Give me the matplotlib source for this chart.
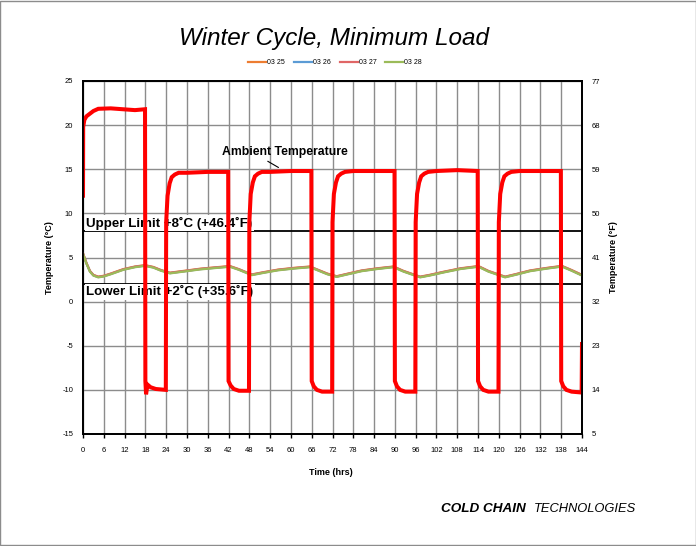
import matplotlib
matplotlib.use("Agg")
import matplotlib.pyplot as plt
from matplotlib.patches import Rectangle

# ---------------- data ----------------
amb_time = [0.0, 0.05, 0.4, 1.0, 2.0, 3.0, 4.4, 8.0, 11.5, 15.0, 17.9,
            18.0, 18.2, 18.6, 19.5, 21.0, 23.9,
            24.0, 24.4, 25.0, 25.6, 26.5, 27.6, 30.0, 36.0, 41.9,
            42.0, 42.6, 43.5, 45.0, 47.9,
            48.0, 48.4, 49.0, 49.6, 50.5, 51.6, 54.0, 60.0, 65.9,
            66.0, 66.6, 67.5, 69.0, 71.9,
            72.0, 72.4, 73.0, 73.6, 74.5, 75.6, 78.0, 84.0, 89.9,
            90.0, 90.6, 91.5, 93.0, 95.9,
            96.0, 96.4, 97.0, 97.6, 98.5, 99.6, 102.0, 108.0, 113.9,
            114.0, 114.6, 115.5, 117.0, 119.9,
            120.0, 120.4, 121.0, 121.6, 122.5, 123.6, 126.0, 132.0, 137.9,
            138.0, 138.6, 139.5, 141.0, 143.9, 144.0]
amb_temp = [12.0, 19.8, 20.6, 21.0, 21.3, 21.6, 21.85, 21.9, 21.8, 21.7, 21.8,
            -9.0, -10.5, -9.4, -9.7, -9.9, -10.0,
            9.0, 12.0, 13.4, 14.1, 14.4, 14.6, 14.6, 14.7, 14.7,
            -9.0, -9.5, -9.9, -10.1, -10.1,
            9.0, 12.2, 13.5, 14.2, 14.5, 14.7, 14.7, 14.8, 14.8,
            -9.0, -9.6, -10.0, -10.2, -10.2,
            9.0, 12.2, 13.5, 14.2, 14.5, 14.7, 14.8, 14.8, 14.8,
            -9.0, -9.6, -10.0, -10.2, -10.2,
            9.0, 12.2, 13.5, 14.2, 14.5, 14.7, 14.8, 14.9, 14.8,
            -9.0, -9.6, -10.0, -10.2, -10.2,
            9.0, 12.2, 13.5, 14.2, 14.5, 14.7, 14.8, 14.8, 14.8,
            -9.0, -9.6, -10.0, -10.2, -10.3, -4.8]

prod_time = [0, 1, 2, 3, 4.4, 6, 8, 11.6, 15, 17.9, 20.3, 22.5, 25.1, 28, 30,
             33.8, 38, 42.4, 45, 48.7, 52, 56.3, 61, 65.5, 68, 70.5, 73.2,
             76.5, 80.4, 85, 89.6, 92.5, 95.8, 97.3, 100, 104, 109, 114.1,
             117, 121.8, 125, 129, 134, 138.2, 141, 144]
s0325 = [5.48, 4.38, 3.48, 3.03, 2.83, 2.93, 3.18, 3.68, 3.98, 4.13, 3.93, 3.58,
         3.28, 3.43, 3.53, 3.73, 3.88, 4.03, 3.68, 3.08, 3.33, 3.63, 3.83, 3.98,
         3.58, 3.18, 2.88, 3.18, 3.53, 3.78, 3.98, 3.48, 3.03, 2.83, 3.03, 3.38,
         3.78, 4.03, 3.48, 2.83, 3.13, 3.53, 3.83, 4.05, 3.58, 3.03]
s0326 = [5.43, 4.33, 3.43, 2.98, 2.78, 2.88, 3.13, 3.63, 3.93, 4.08, 3.88, 3.53,
         3.23, 3.38, 3.48, 3.68, 3.83, 3.98, 3.63, 3.03, 3.28, 3.58, 3.78, 3.93,
         3.53, 3.13, 2.83, 3.13, 3.48, 3.73, 3.93, 3.43, 2.98, 2.78, 2.98, 3.33,
         3.73, 3.98, 3.43, 2.78, 3.08, 3.48, 3.78, 4.00, 3.53, 2.98]
s0327 = [5.45, 4.35, 3.45, 3.00, 2.80, 2.90, 3.15, 3.65, 3.95, 4.10, 3.90, 3.55,
         3.25, 3.40, 3.50, 3.70, 3.85, 4.00, 3.65, 3.05, 3.30, 3.60, 3.80, 3.95,
         3.55, 3.15, 2.85, 3.15, 3.50, 3.75, 3.95, 3.45, 3.00, 2.80, 3.00, 3.35,
         3.75, 4.00, 3.45, 2.80, 3.10, 3.50, 3.80, 4.02, 3.55, 3.00]
s0328 = [5.40, 4.30, 3.40, 2.95, 2.75, 2.85, 3.10, 3.60, 3.90, 4.05, 3.85, 3.50,
         3.20, 3.35, 3.45, 3.65, 3.80, 3.95, 3.60, 3.00, 3.25, 3.55, 3.75, 3.90,
         3.50, 3.10, 2.80, 3.10, 3.45, 3.70, 3.90, 3.40, 2.95, 2.75, 2.95, 3.30,
         3.70, 3.95, 3.40, 2.75, 3.05, 3.45, 3.75, 3.97, 3.50, 2.95]

series_names = ["03 25", "03 26", "03 27", "03 28"]
series_colors = ["#ED7D31", "#5B9BD5", "#E06666", "#9BBB59"]

x_ticks = list(range(0, 145, 6))
yc_ticks = [-15, -10, -5, 0, 5, 10, 15, 20, 25]
yf_ticks = [5, 14, 23, 32, 41, 50, 59, 68, 77]
upper_limit = 8
lower_limit = 2

# ---------------- figure ----------------
plt.rcParams['font.family'] = ['Liberation Sans', 'DejaVu Sans']
plt.rcParams['axes.unicode_minus'] = False
fig = plt.figure(figsize=(6.96, 5.46), dpi=100)
ax = fig.add_axes([83/696, 1-434/546, (582-83)/696, (434-81)/546])

ax.set_xlim(0, 144)
ax.set_ylim(-15, 25)
ax.set_xticks(x_ticks)
ax.set_yticks(yc_ticks)
ax.grid(True, color="#8c8c8c", linewidth=1.0, zorder=0)
ax.set_axisbelow(True)
ax.tick_params(axis='x', length=3, width=1, color="#000000", labelsize=5.5, pad=6)
ax.tick_params(axis='y', length=0, labelsize=5.5, pad=7)
for s in ax.spines.values():
    s.set_color("black")
    s.set_linewidth(1.3)

# limit lines
ax.axhline(upper_limit, color="black", linewidth=1.3, zorder=2)
ax.axhline(lower_limit, color="black", linewidth=1.3, zorder=2)
ax.text(1.0, 8.15, "Upper Limit +8˚C (+46.4˚F)", fontsize=9.6, fontweight='bold',
        va='bottom', ha='left', zorder=2.5,
        bbox=dict(facecolor='white', edgecolor='none', pad=1.0))
ax.text(1.0, 1.85, "Lower Limit +2˚C (+35.6˚F)", fontsize=9.6, fontweight='bold',
        va='top', ha='left', zorder=2.5,
        bbox=dict(facecolor='white', edgecolor='none', pad=1.0))

# product lines
for vals, name, col in zip([s0325, s0326, s0327, s0328], series_names, series_colors):
    ax.plot(prod_time, vals, color=col, linewidth=1.6, label=name, zorder=3)

# ambient
ax.plot(amb_time, amb_temp, color="#FF0000", linewidth=2.9, zorder=4,
        solid_joinstyle='miter')

ax.annotate("Ambient Temperature", xy=(56.4, 15.2), xytext=(40.0, 16.9),
            fontsize=8.8, fontweight='bold', ha='left', va='center',
            arrowprops=dict(arrowstyle='-', color='black', lw=0.8,
                            shrinkA=0, shrinkB=0, relpos=(0.28, 0.3)),
            zorder=5)

ax.set_xlabel("Time (hrs)", fontsize=6.5, fontweight='bold')
ax.xaxis.set_label_coords(0.497, -0.095)
ax.set_ylabel("Temperature (°C)", fontsize=6.5, fontweight='bold')
ax.yaxis.set_label_coords(-0.058, 0.5)

ax2 = ax.twinx()
ax2.set_ylim(5, 77)
ax2.set_yticks(yf_ticks)
ax2.tick_params(axis='y', length=0, labelsize=5.5, pad=7)
for s in ax2.spines.values():
    s.set_color("black")
    s.set_linewidth(1.3)
ax2.set_ylabel("Temperature (°F)", fontsize=6.5, fontweight='bold')
ax2.yaxis.set_label_coords(1.055, 0.5)

# title and legend
fig.text(334/696, 1-38/546, "Winter Cycle, Minimum Load", fontsize=17.5,
         style='italic', ha='center', va='center')
handles, labels = ax.get_legend_handles_labels()
fig.legend(handles, labels, loc='center', bbox_to_anchor=(335/696, 1-63/546),
           ncol=4, frameon=False, fontsize=5, handlelength=2.6,
           handletextpad=0.15, columnspacing=1.3)

# logo text
fig.text(441/696, 1-509/546, "COLD CHAIN", fontsize=9.7, fontweight='bold',
         style='italic', ha='left', va='center')
fig.text(534/696, 1-509/546, "TECHNOLOGIES", fontsize=9.3,
         style='italic', ha='left', va='center')

# figure border
fig.patches.append(Rectangle((0.0007, 0.001), 0.9986, 0.998, transform=fig.transFigure,
                             fill=False, edgecolor="#8c8c8c", linewidth=1.0))

fig.savefig("out.png", dpi=100)
